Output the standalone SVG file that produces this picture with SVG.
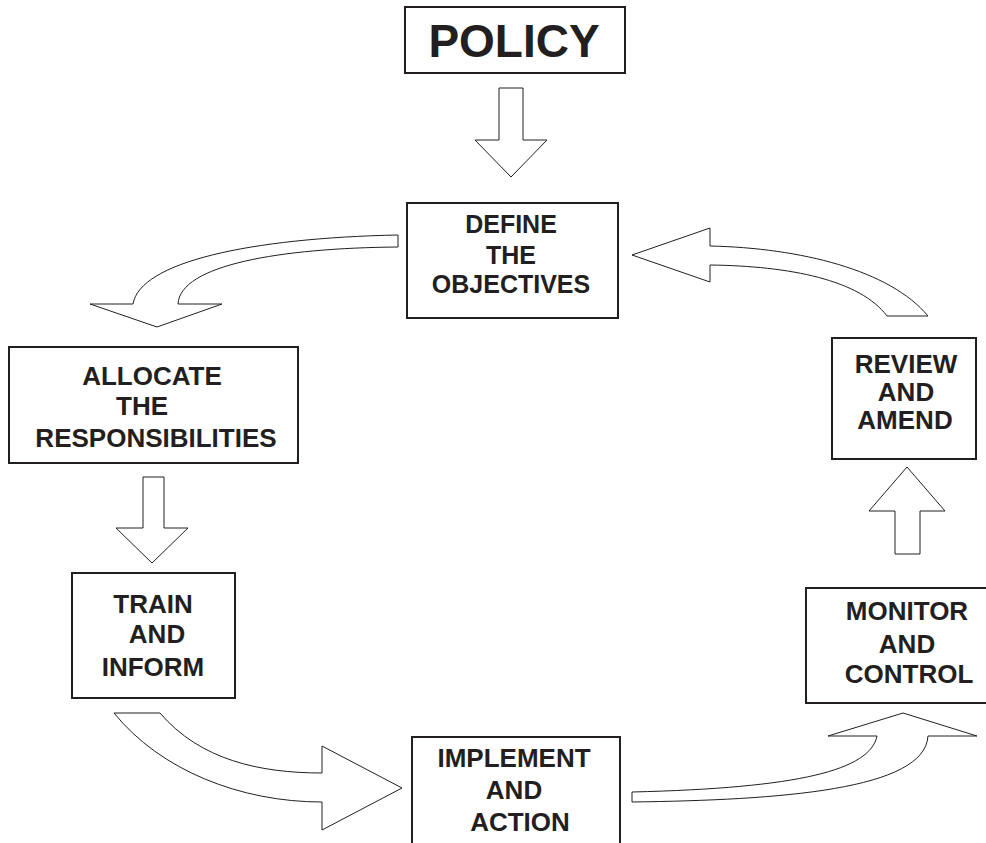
<svg xmlns="http://www.w3.org/2000/svg" width="986" height="843" viewBox="0 0 986 843">
<style>
.box{fill:#fff;stroke:#231f20;stroke-width:2}
.arr{fill:#fff;stroke:#231f20;stroke-width:1;stroke-linejoin:miter}
.t{font-family:"Liberation Sans",Arial,Helvetica,sans-serif;font-weight:bold;fill:#231f20;text-anchor:middle;font-size:26px}
</style>
<rect width="986" height="843" fill="#fff"/>
<g id="connectors">
<polygon class="arr" points="499,88 523,88 523,140 547,140 511,177 475,140 499,140"/>
<polygon class="arr" points="143,477 164,477 164,528 188,528 152,563 116,528 143,528"/>
<polygon class="arr" points="895,554 920,554 920,511 945,511 907,467 869,511 895,511"/>
<path class="arr" d="M398,235 C250,238 140,262 133,304 L90,304 L157,327 L222,304 L178,304 C180,265 280,248 398,247 Z"/>
<path class="arr" d="M632,255 L710,228 L710,246 C800,248 890,270 928,316 L887,316 C860,280 790,266 710,265 L710,282 Z"/>
<path class="arr" d="M114,713 L160,713 C200,760 260,773 322,773 L322,746 L402,788 L322,830 L322,802 C240,802 160,770 114,713 Z"/>
<path class="arr" d="M632,792 C800,788 870,770 877,736 L828,736 L903,713 L977,736 L928,736 C925,790 780,800 632,802 Z"/>
</g>
<g id="policy">
<rect class="box" x="405" y="7" width="220" height="66"/>
<text class="t" x="514" y="57" style="font-size:46px">POLICY</text>
</g>
<g id="define">
<rect class="box" x="407" y="203" width="211" height="115"/>
<text class="t" x="511" y="233" style="font-size:25px">DEFINE</text>
<text class="t" x="511" y="264" style="font-size:25px">THE</text>
<text class="t" x="511" y="293" style="font-size:25px">OBJECTIVES</text>
</g>
<g id="allocate">
<rect class="box" x="9" y="347" width="289" height="116"/>
<text class="t" x="152" y="385">ALLOCATE</text>
<text class="t" x="142" y="415">THE</text>
<text class="t" x="156" y="447">RESPONSIBILITIES</text>
</g>
<g id="train">
<rect class="box" x="72" y="573" width="163" height="125"/>
<text class="t" x="153" y="613">TRAIN</text>
<text class="t" x="157" y="643">AND</text>
<text class="t" x="153" y="676">INFORM</text>
</g>
<g id="implement">
<rect class="box" x="412" y="737" width="208" height="120"/>
<text class="t" x="514" y="767">IMPLEMENT</text>
<text class="t" x="514" y="799">AND</text>
<text class="t" x="520" y="831">ACTION</text>
</g>
<g id="monitor">
<rect class="box" x="806" y="588" width="182" height="115"/>
<text class="t" x="907" y="620">MONITOR</text>
<text class="t" x="907" y="653">AND</text>
<text class="t" x="909" y="683">CONTROL</text>
</g>
<g id="review">
<rect class="box" x="832" y="338" width="144" height="121"/>
<text class="t" x="906" y="373">REVIEW</text>
<text class="t" x="906" y="401">AND</text>
<text class="t" x="905" y="429">AMEND</text>
</g>
</svg>
